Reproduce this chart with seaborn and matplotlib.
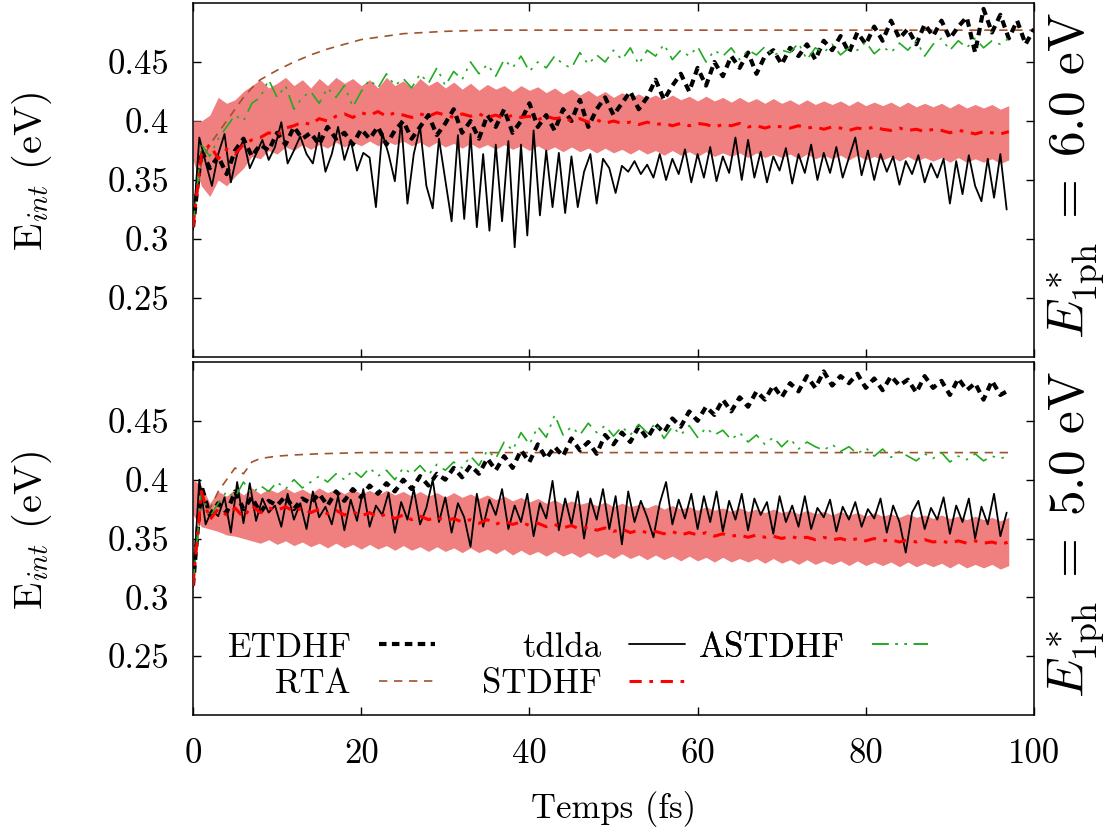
import numpy as np
import pandas as pd
import matplotlib
matplotlib.use("Agg")
import matplotlib.pyplot as plt
import seaborn as sns
from matplotlib.lines import Line2D

# tdlda is sampled finer than the other runs (fs)
TDLDA_STEP = 0.75

# ---------------------------------------------------------------- 6.0 eV
tdlda_6 = [
    0.308, 0.386, 0.365, 0.345, 0.372, 0.389, 0.348, 0.372, 0.384, 0.360,
    0.372, 0.384, 0.367, 0.378, 0.399, 0.364, 0.375, 0.387, 0.372, 0.364,
    0.390, 0.357, 0.372, 0.395, 0.367, 0.384, 0.358, 0.373, 0.369, 0.327,
    0.390, 0.372, 0.349, 0.400, 0.330, 0.372, 0.395, 0.345, 0.326, 0.385,
    0.350, 0.315, 0.388, 0.317, 0.389, 0.310, 0.372, 0.307, 0.380, 0.315,
    0.383, 0.293, 0.380, 0.303, 0.392, 0.320, 0.375, 0.327, 0.373, 0.322,
    0.370, 0.327, 0.357, 0.372, 0.330, 0.368, 0.360, 0.339, 0.362, 0.357,
    0.366, 0.355, 0.363, 0.352, 0.372, 0.350, 0.368, 0.355, 0.376, 0.348,
    0.372, 0.352, 0.378, 0.349, 0.370, 0.356, 0.386, 0.350, 0.384, 0.352,
    0.374, 0.348, 0.370, 0.358, 0.377, 0.347, 0.372, 0.356, 0.380, 0.350,
    0.373, 0.356, 0.378, 0.352, 0.369, 0.386, 0.354, 0.375, 0.350, 0.372,
    0.357, 0.370, 0.346, 0.366, 0.355, 0.371, 0.348, 0.364, 0.352, 0.368,
    0.330, 0.366, 0.338, 0.371, 0.345, 0.332, 0.368, 0.335, 0.372, 0.325,
]
etdhf_6 = [
    0.310, 0.375, 0.360, 0.370, 0.355, 0.375, 0.385, 0.370, 0.380, 0.375,
    0.390, 0.380, 0.395, 0.385, 0.390, 0.380, 0.395, 0.385, 0.390, 0.380,
    0.393, 0.385, 0.395, 0.380, 0.392, 0.400, 0.385, 0.395, 0.405, 0.388,
    0.398, 0.410, 0.390, 0.400, 0.385, 0.405, 0.395, 0.410, 0.390, 0.400,
    0.415, 0.395, 0.405, 0.392, 0.410, 0.400, 0.418, 0.395, 0.410, 0.420,
    0.405, 0.415, 0.425, 0.410, 0.420, 0.435, 0.418, 0.430, 0.440, 0.425,
    0.445, 0.430, 0.450, 0.438, 0.455, 0.445, 0.458, 0.440, 0.455, 0.460,
    0.448, 0.462, 0.455, 0.465, 0.452, 0.468, 0.460, 0.472, 0.458, 0.475,
    0.465, 0.480, 0.468, 0.485, 0.470, 0.478, 0.465, 0.482, 0.472, 0.485,
    0.470, 0.480, 0.488, 0.458, 0.495, 0.475, 0.490, 0.470, 0.485, 0.465,
    0.478,
]
astdhf_6 = [
    0.310, 0.380, 0.370, 0.385, 0.395, 0.405, 0.400, 0.415, 0.420, 0.435,
    0.420, 0.430, 0.410, 0.420, 0.425, 0.415, 0.428, 0.420, 0.430, 0.412,
    0.425, 0.435, 0.428, 0.440, 0.430, 0.436, 0.428, 0.440, 0.432, 0.445,
    0.430, 0.442, 0.435, 0.450, 0.440, 0.448, 0.438, 0.452, 0.445, 0.455,
    0.442, 0.450, 0.445, 0.455, 0.448, 0.445, 0.458, 0.448, 0.456, 0.450,
    0.460, 0.452, 0.462, 0.448, 0.460, 0.455, 0.465, 0.452, 0.460, 0.455,
    0.463, 0.450, 0.460, 0.455, 0.462, 0.452, 0.460, 0.456, 0.463, 0.455,
    0.460, 0.458, 0.466, 0.452, 0.462, 0.458, 0.465, 0.456, 0.462, 0.460,
    0.467, 0.457, 0.463, 0.458, 0.466, 0.460, 0.468, 0.455, 0.465, 0.470,
    0.460, 0.468, 0.462, 0.470, 0.462, 0.468, 0.465, 0.470,
]
stdhf_6 = [
    0.310, 0.372, 0.380, 0.368, 0.376, 0.372, 0.380, 0.384, 0.386, 0.390,
    0.388, 0.394, 0.396, 0.399, 0.397, 0.402, 0.400, 0.404, 0.406, 0.403,
    0.407, 0.405, 0.408, 0.404, 0.407, 0.405, 0.403, 0.406, 0.404, 0.407,
    0.405, 0.403, 0.406, 0.404, 0.406, 0.403, 0.405, 0.402, 0.405, 0.403,
    0.404, 0.401, 0.404, 0.402, 0.403, 0.400, 0.402, 0.399, 0.401, 0.398,
    0.400, 0.398, 0.399, 0.397, 0.399, 0.397, 0.398, 0.396, 0.398, 0.396,
    0.398, 0.397, 0.395, 0.397, 0.396, 0.398, 0.395, 0.396, 0.394, 0.396,
    0.395, 0.394, 0.396, 0.394, 0.395, 0.393, 0.395, 0.394, 0.392, 0.394,
    0.393, 0.395, 0.393, 0.392, 0.394, 0.392, 0.393, 0.391, 0.393, 0.392,
    0.390, 0.392, 0.391, 0.389, 0.391, 0.390, 0.389, 0.391,
]
stdhf_hi_6 = [
    0.400, 0.400, 0.405, 0.420, 0.415, 0.418, 0.425, 0.430, 0.435, 0.428,
    0.432, 0.437, 0.430, 0.435, 0.428, 0.436, 0.430, 0.437, 0.432, 0.436,
    0.430, 0.435, 0.428, 0.437, 0.430, 0.434, 0.428, 0.436, 0.430, 0.434,
    0.428, 0.433, 0.427, 0.432, 0.426, 0.431, 0.427, 0.430, 0.425, 0.430,
    0.426, 0.429, 0.424, 0.428, 0.423, 0.427, 0.422, 0.426, 0.421, 0.425,
    0.420, 0.424, 0.420, 0.423, 0.419, 0.422, 0.418, 0.422, 0.418, 0.421,
    0.417, 0.421, 0.417, 0.420, 0.416, 0.420, 0.416, 0.419, 0.415, 0.419,
    0.415, 0.418, 0.414, 0.418, 0.414, 0.417, 0.414, 0.417, 0.413, 0.417,
    0.413, 0.416, 0.413, 0.416, 0.412, 0.416, 0.412, 0.415, 0.412, 0.415,
    0.411, 0.415, 0.411, 0.414, 0.411, 0.414, 0.410, 0.413,
]
stdhf_lo_6 = [
    0.367, 0.345, 0.336, 0.350, 0.345, 0.353, 0.360, 0.370, 0.368, 0.375,
    0.372, 0.378, 0.375, 0.380, 0.376, 0.380, 0.377, 0.382, 0.378, 0.382,
    0.379, 0.383, 0.379, 0.383, 0.380, 0.383, 0.379, 0.382, 0.378, 0.382,
    0.378, 0.381, 0.377, 0.381, 0.377, 0.380, 0.376, 0.380, 0.376, 0.379,
    0.375, 0.379, 0.375, 0.378, 0.374, 0.378, 0.374, 0.377, 0.373, 0.377,
    0.373, 0.376, 0.372, 0.376, 0.372, 0.375, 0.371, 0.375, 0.371, 0.374,
    0.370, 0.374, 0.370, 0.373, 0.370, 0.373, 0.369, 0.373, 0.369, 0.372,
    0.369, 0.372, 0.368, 0.372, 0.368, 0.371, 0.368, 0.371, 0.367, 0.371,
    0.367, 0.370, 0.367, 0.370, 0.366, 0.370, 0.366, 0.369, 0.366, 0.369,
    0.365, 0.369, 0.365, 0.368, 0.365, 0.368, 0.364, 0.367,
]
rta_t_6 = [0, 1, 2, 3, 4, 5, 6, 7, 8, 10, 12, 14, 16, 18, 20, 22, 25, 30,
           35, 40, 50, 60, 70, 80, 90, 100]
rta_6 = [0.310, 0.365, 0.380, 0.390, 0.400, 0.410, 0.420, 0.428, 0.435,
         0.443, 0.450, 0.456, 0.461, 0.465, 0.469, 0.471, 0.474, 0.476,
         0.477, 0.477, 0.477, 0.477, 0.477, 0.477, 0.477, 0.477]

# ---------------------------------------------------------------- 5.0 eV
tdlda_5 = [
    0.309, 0.400, 0.362, 0.374, 0.369, 0.385, 0.355, 0.398, 0.363, 0.397,
    0.365, 0.384, 0.372, 0.378, 0.360, 0.388, 0.366, 0.380, 0.358, 0.390,
    0.368, 0.377, 0.362, 0.386, 0.357, 0.383, 0.365, 0.392, 0.360, 0.378,
    0.370, 0.389, 0.355, 0.381, 0.366, 0.392, 0.362, 0.376, 0.400, 0.364,
    0.385, 0.355, 0.380, 0.368, 0.343, 0.388, 0.360, 0.383, 0.370, 0.392,
    0.358, 0.378, 0.364, 0.388, 0.352, 0.380, 0.367, 0.399, 0.357, 0.384,
    0.362, 0.390, 0.350, 0.384, 0.366, 0.392, 0.358, 0.386, 0.345, 0.390,
    0.364, 0.382, 0.368, 0.351, 0.380, 0.398, 0.362, 0.383, 0.367, 0.388,
    0.358, 0.386, 0.364, 0.390, 0.356, 0.382, 0.366, 0.388, 0.357, 0.384,
    0.370, 0.381, 0.354, 0.386, 0.364, 0.378, 0.360, 0.386, 0.358, 0.376,
    0.368, 0.383, 0.356, 0.377, 0.366, 0.381, 0.360, 0.375, 0.367, 0.384,
    0.355, 0.378, 0.364, 0.338, 0.372, 0.382, 0.358, 0.376, 0.366, 0.385,
    0.354, 0.378, 0.364, 0.384, 0.350, 0.377, 0.362, 0.388, 0.352, 0.372,
]
etdhf_5 = [
    0.310, 0.395, 0.370, 0.380, 0.372, 0.390, 0.375, 0.385, 0.372, 0.382,
    0.378, 0.386, 0.375, 0.384, 0.380, 0.388, 0.378, 0.390, 0.382, 0.392,
    0.385, 0.395, 0.388, 0.397, 0.390, 0.400, 0.392, 0.403, 0.395, 0.405,
    0.400, 0.410, 0.402, 0.412, 0.405, 0.418, 0.408, 0.420, 0.410, 0.425,
    0.415, 0.430, 0.418, 0.428, 0.420, 0.435, 0.425, 0.432, 0.422, 0.438,
    0.430, 0.440, 0.432, 0.445, 0.435, 0.447, 0.440, 0.452, 0.445, 0.458,
    0.450, 0.462, 0.455, 0.468, 0.458, 0.470, 0.462, 0.475, 0.468, 0.480,
    0.470, 0.482, 0.475, 0.488, 0.478, 0.492, 0.480, 0.488, 0.482, 0.490,
    0.478, 0.486, 0.476, 0.488, 0.480, 0.485, 0.474, 0.488, 0.478, 0.484,
    0.472, 0.486, 0.476, 0.482, 0.468, 0.484, 0.472, 0.476,
]
astdhf_5 = [
    0.310, 0.390, 0.368, 0.380, 0.390, 0.385, 0.398, 0.388, 0.395, 0.390,
    0.398, 0.392, 0.400, 0.393, 0.398, 0.403, 0.398, 0.405, 0.400, 0.408,
    0.402, 0.410, 0.403, 0.408, 0.400, 0.410, 0.405, 0.412, 0.404, 0.413,
    0.408, 0.415, 0.410, 0.420, 0.412, 0.425, 0.418, 0.432, 0.425, 0.440,
    0.430, 0.445, 0.436, 0.455, 0.438, 0.445, 0.438, 0.448, 0.440, 0.446,
    0.437, 0.445, 0.438, 0.447, 0.440, 0.448, 0.435, 0.445, 0.438, 0.446,
    0.436, 0.444, 0.438, 0.442, 0.434, 0.440, 0.432, 0.438, 0.430, 0.436,
    0.428, 0.435, 0.426, 0.432, 0.428, 0.425, 0.430, 0.424, 0.428, 0.422,
    0.427, 0.420, 0.426, 0.419, 0.424, 0.420, 0.416, 0.422, 0.418, 0.423,
    0.415, 0.420, 0.417, 0.422, 0.416, 0.420, 0.418, 0.420,
]
stdhf_5 = [
    0.310, 0.390, 0.366, 0.375, 0.370, 0.376, 0.368, 0.378, 0.372, 0.376,
    0.374, 0.377, 0.373, 0.376, 0.372, 0.375, 0.371, 0.374, 0.370, 0.373,
    0.369, 0.372, 0.368, 0.371, 0.367, 0.370, 0.366, 0.369, 0.366, 0.368,
    0.365, 0.367, 0.364, 0.366, 0.363, 0.366, 0.362, 0.365, 0.362, 0.364,
    0.361, 0.363, 0.360, 0.362, 0.359, 0.361, 0.358, 0.360, 0.357, 0.359,
    0.356, 0.358, 0.355, 0.357, 0.355, 0.356, 0.354, 0.356, 0.353, 0.355,
    0.353, 0.355, 0.352, 0.354, 0.352, 0.353, 0.351, 0.353, 0.351, 0.352,
    0.350, 0.352, 0.350, 0.351, 0.349, 0.351, 0.349, 0.350, 0.348, 0.350,
    0.348, 0.350, 0.348, 0.349, 0.347, 0.349, 0.347, 0.349, 0.347, 0.348,
    0.346, 0.348, 0.346, 0.348, 0.346, 0.347, 0.345, 0.347,
]
stdhf_hi_5 = [
    0.400, 0.395, 0.380, 0.390, 0.386, 0.392, 0.387, 0.393, 0.388, 0.392,
    0.389, 0.393, 0.389, 0.392, 0.388, 0.393, 0.389, 0.392, 0.388, 0.392,
    0.388, 0.391, 0.387, 0.391, 0.387, 0.390, 0.386, 0.390, 0.386, 0.389,
    0.385, 0.389, 0.385, 0.388, 0.384, 0.387, 0.383, 0.386, 0.382, 0.385,
    0.381, 0.384, 0.380, 0.383, 0.379, 0.382, 0.379, 0.381, 0.378, 0.381,
    0.377, 0.380, 0.377, 0.379, 0.376, 0.379, 0.375, 0.378, 0.375, 0.377,
    0.374, 0.377, 0.374, 0.376, 0.373, 0.376, 0.373, 0.375, 0.372, 0.375,
    0.372, 0.374, 0.371, 0.374, 0.371, 0.373, 0.370, 0.373, 0.370, 0.372,
    0.369, 0.372, 0.369, 0.371, 0.368, 0.371, 0.368, 0.370, 0.367, 0.370,
    0.367, 0.369, 0.366, 0.369, 0.366, 0.368, 0.365, 0.368,
]
stdhf_lo_5 = [
    0.370, 0.360, 0.358, 0.356, 0.353, 0.352, 0.350, 0.348, 0.346, 0.349,
    0.345, 0.348, 0.344, 0.347, 0.343, 0.346, 0.342, 0.346, 0.342, 0.345,
    0.341, 0.345, 0.341, 0.344, 0.340, 0.344, 0.340, 0.343, 0.339, 0.343,
    0.339, 0.342, 0.338, 0.342, 0.338, 0.341, 0.337, 0.341, 0.336, 0.340,
    0.336, 0.339, 0.335, 0.339, 0.335, 0.338, 0.334, 0.338, 0.334, 0.337,
    0.333, 0.337, 0.333, 0.336, 0.332, 0.336, 0.332, 0.335, 0.331, 0.335,
    0.331, 0.334, 0.330, 0.334, 0.330, 0.333, 0.330, 0.333, 0.329, 0.333,
    0.329, 0.332, 0.328, 0.332, 0.328, 0.331, 0.328, 0.331, 0.327, 0.331,
    0.327, 0.330, 0.327, 0.330, 0.326, 0.330, 0.326, 0.329, 0.326, 0.329,
    0.325, 0.329, 0.325, 0.328, 0.325, 0.328, 0.324, 0.327,
]
rta_t_5 = [0, 1, 2, 3, 4, 5, 6, 7, 8, 10, 12, 15, 20, 30, 40, 50, 60, 70,
           80, 90, 97]
rta_5 = [0.310, 0.380, 0.375, 0.390, 0.400, 0.410, 0.405, 0.415, 0.418,
         0.420, 0.421, 0.422, 0.423, 0.423, 0.423, 0.423, 0.423, 0.423,
         0.423, 0.423, 0.423]

PANELS = [
    dict(tdlda=tdlda_6, etdhf=etdhf_6, astdhf=astdhf_6, stdhf=stdhf_6,
         hi=stdhf_hi_6, lo=stdhf_lo_6, rta_t=rta_t_6, rta=rta_6,
         tag=r"$E^*_{\rm 1ph}\;=\;6.0$ eV"),
    dict(tdlda=tdlda_5, etdhf=etdhf_5, astdhf=astdhf_5, stdhf=stdhf_5,
         hi=stdhf_hi_5, lo=stdhf_lo_5, rta_t=rta_t_5, rta=rta_5,
         tag=r"$E^*_{\rm 1ph}\;=\;5.0$ eV"),
]

STYLE = {
    "ETDHF": dict(color="black", lw=3.0, ls=(0, (1.8, 1.3)), zorder=3),
    "RTA": dict(color="#a0522d", lw=1.2, ls=(0, (5, 4)), zorder=2),
    "tdlda": dict(color="black", lw=1.3, ls="-", zorder=4),
    "STDHF": dict(color="#ff0000", lw=2.2, ls=(0, (4, 2.5, 1.2, 2.5)), zorder=5),
    "ASTDHF": dict(color="#22aa22", lw=1.2, ls=(0, (10, 4, 1.5, 4, 1.5, 4)), zorder=4),
}
BAND_COLOR = "#f08080"

sns.set_theme(style="ticks")
plt.rcParams.update({
    "font.family": "serif",
    "font.serif": ["cmr10", "DejaVu Serif"],
    "mathtext.fontset": "cm",
    "axes.formatter.use_mathtext": True,
    "axes.linewidth": 1.1,
    "axes.edgecolor": "black",
    "text.color": "black",
    "axes.labelcolor": "black",
    "xtick.color": "black",
    "ytick.color": "black",
})

W, H = 1117, 834
fig = plt.figure(figsize=(W / 100, H / 100), dpi=100)
x0, x1 = 193, 1034
boxes = [(3, 357), (362, 715)]


def line(ax, x, y, name):
    st = STYLE[name]
    df = pd.DataFrame({"t": x, "E": y})
    sns.lineplot(data=df, x="t", y="E", ax=ax, color=st["color"],
                 linewidth=st["lw"], linestyle=st["ls"], zorder=st["zorder"],
                 errorbar=None, sort=False)


axes = []
for k, (p, (ytop, ybot)) in enumerate(zip(PANELS, boxes)):
    ax = fig.add_axes([x0 / W, 1 - ybot / H, (x1 - x0) / W, (ybot - ytop) / H])
    axes.append(ax)

    t_fine = np.arange(len(p["tdlda"])) * TDLDA_STEP
    t_et = np.arange(len(p["etdhf"]))
    t_as = np.arange(len(p["astdhf"]))
    t_st = np.arange(len(p["stdhf"]))

    ax.fill_between(t_st, p["lo"], p["hi"], color=BAND_COLOR, lw=0, zorder=1)
    line(ax, t_et, p["etdhf"], "ETDHF")
    line(ax, p["rta_t"], p["rta"], "RTA")
    line(ax, t_fine, p["tdlda"], "tdlda")
    line(ax, t_st, p["stdhf"], "STDHF")
    line(ax, t_as, p["astdhf"], "ASTDHF")

    ax.set_xlim(0, 100)
    ax.set_ylim(0.2, 0.5)
    ax.set_xticks([0, 20, 40, 60, 80, 100])
    ax.set_yticks([0.25, 0.3, 0.35, 0.4, 0.45])
    ax.set_yticklabels(["0.25", "0.3", "0.35", "0.4", "0.45"])
    ax.tick_params(direction="in", length=6, width=1, top=True, right=True,
                   labelsize=25, pad=17, colors="black")
    ax.set_xlabel("")
    ax.set_ylabel("")
    if k == 0:
        ax.tick_params(labelbottom=False)
    for s in ax.spines.values():
        s.set_visible(True)

    yc = 1 - (ytop + ybot) / 2 / H
    fig.text(32 / W, yc + 0.01, r"E$_{int}$ (eV)", rotation=90, ha="center",
             va="center", fontsize=29)
    fig.text(1076 / W, yc + 0.005, p["tag"], rotation=90, ha="center",
             va="center", fontsize=37)

ax = axes[1]
ax.set_xticklabels(["0", "20", "40", "60", "80", "100"])
ax.set_xlabel("Temps (fs)", fontsize=25, labelpad=15)


def handle(name):
    st = STYLE[name]
    return Line2D([], [], color=st["color"], lw=st["lw"], ls=st["ls"])


# gnuplot-style key: label on the left, sample on the right, three columns
columns = [(["ETDHF", "RTA"], 435), (["tdlda", "STDHF"], 685), (["ASTDHF"], 928)]
for names, xr in columns:
    leg = ax.legend([handle(n) for n in names], names, loc="upper right",
                    bbox_to_anchor=(xr / W, 1 - 632 / H),
                    bbox_transform=fig.transFigure, frameon=False,
                    markerfirst=False, fontsize=25, handlelength=1.6,
                    handletextpad=0.8, labelspacing=0.15, borderpad=0,
                    borderaxespad=0)
    ax.add_artist(leg)

fig.savefig("out.png", dpi=100, facecolor="white")
